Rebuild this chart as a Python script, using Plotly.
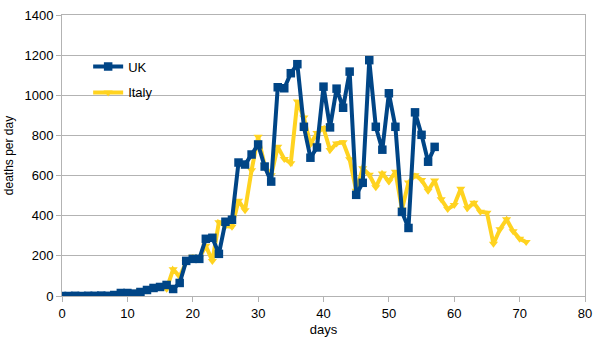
import plotly.graph_objects as go

uk_days = list(range(0, 58))
uk_deaths = [0, 0, 1, 0, 1, 1, 2, 1, 5, 15,
             15, 12, 20, 30, 40, 45, 55, 35, 65, 175,
             185, 185, 285, 290, 210, 370, 380, 665, 655, 705,
             755, 645, 570, 1040, 1035, 1110, 1155, 843, 689, 740,
             1043, 840, 1033, 938, 1118, 504, 564, 1175, 843, 729,
             1010, 843, 419, 339, 915, 803, 669, 743]

italy_days = list(range(0, 72))
italy_deaths = [0, 1, 1, 1, 4, 3, 2, 5, 4, 8,
                5, 18, 27, 28, 41, 49, 36, 133, 97, 168,
                196, 189, 250, 175, 368, 349, 345, 475, 427, 627,
                793, 651, 601, 743, 683, 662, 969, 889, 756, 812,
                837, 727, 760, 766, 681, 525, 636, 604, 542, 610,
                570, 619, 431, 566, 602, 578, 525, 575, 482, 433,
                454, 534, 437, 464, 420, 415, 260, 333, 382, 323,
                285, 269]

x_ticks = [0, 10, 20, 30, 40, 50, 60, 70, 80]
y_ticks = [0, 200, 400, 600, 800, 1000, 1200, 1400]

fig = go.Figure()
fig.add_trace(go.Scatter(x=italy_days, y=italy_deaths, name="Italy", mode="lines+markers",
                         legendgroup="b", legendrank=2,
                         line=dict(color="#ffd320", width=4),
                         marker=dict(symbol="triangle-down", size=8, color="#ffd320")))
fig.add_trace(go.Scatter(x=uk_days, y=uk_deaths, name="UK", mode="lines+markers",
                         legendgroup="a", legendrank=1,
                         line=dict(color="#004586", width=4),
                         marker=dict(symbol="square", size=8.5, color="#004586")))

font = "Liberation Sans, Arial, sans-serif"
fig.update_layout(
    width=605, height=340,
    margin=dict(l=62, r=20, t=15, b=44, autoexpand=False),
    paper_bgcolor="white", plot_bgcolor="white",
    font=dict(family=font, size=13, color="#000000"),
    showlegend=True,
    legend=dict(x=0.05, y=0.87, xanchor="left", yanchor="top",
                traceorder="grouped", tracegroupgap=6,
                bgcolor="rgba(0,0,0,0)",
                font=dict(size=13), itemwidth=30),
    xaxis=dict(range=[0, 80], tickvals=x_ticks, showgrid=False, automargin=False,
               showline=True, linecolor="#b3b3b3", linewidth=1, mirror=True,
               ticks="outside", ticklen=5, tickcolor="#b3b3b3", zeroline=False,
               title=dict(text="days", font=dict(size=13), standoff=5),
               tickfont=dict(size=13)),
    yaxis=dict(range=[0, 1400], tickvals=y_ticks, showgrid=True, gridcolor="#b3b3b3",
               automargin=False,
               showline=True, linecolor="#b3b3b3", linewidth=1, mirror=True,
               ticks="outside", ticklen=5, tickcolor="#b3b3b3", zeroline=False,
               title=dict(text="deaths per day", font=dict(size=12), standoff=8),
               tickfont=dict(size=13)),
)
fig.write_html("out.html")
